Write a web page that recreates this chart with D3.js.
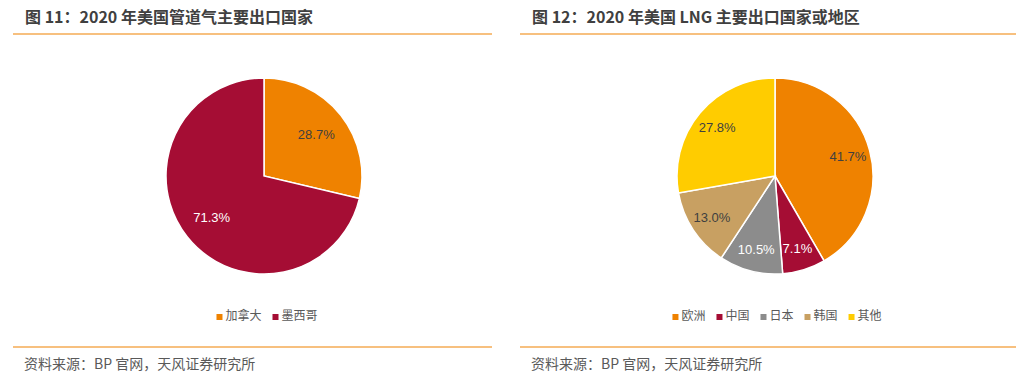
<!DOCTYPE html>
<html><head><meta charset="utf-8">
<script src="https://cdn.jsdelivr.net/npm/d3@7"></script>
<style>body{margin:0;background:#fff;}svg{display:block;}</style>
</head><body>
<svg id="c" width="1026" height="379"></svg>
<script>
// ---- data ----
const titleLeft = "图 11：2020 年美国管道气主要出口国家";
const titleRight = "图 12：2020 年美国 LNG 主要出口国家或地区";
const sourceText = "资料来源：BP 官网，天风证券研究所";

const pipeCategories = ["加拿大", "墨西哥"];
const pipeValues = [28.7, 71.3];

const lngCategories = ["欧洲", "中国", "日本", "韩国", "其他"];
const lngValues = [41.7, 7.1, 10.5, 13.0, 27.8];

// ---- styles ----
const colorMap = {"加拿大":"#EF8200","墨西哥":"#A50D34","欧洲":"#EF8200","中国":"#A50D34","日本":"#8C8C8C","韩国":"#C8A062","其他":"#FFCC00"};
const labelColor = {"加拿大":"#404040","墨西哥":"#ffffff","欧洲":"#404040","中国":"#ffffff","日本":"#ffffff","韩国":"#404040","其他":"#404040"};
const ORANGE = "#EF8200";

const svg = d3.select("#c");

function panel(opts){
  const g = svg.append("g");
  // title
  g.append("text").attr("x", opts.titleX).attr("y", 23)
    .attr("font-family","'Noto Sans CJK SC','Noto Sans',sans-serif")
    .attr("font-weight","bold").attr("font-size",16).attr("fill","#404040")
    .text(opts.title);
  g.append("line").attr("x1",opts.x0).attr("x2",opts.x1).attr("y1",34).attr("y2",34)
    .attr("stroke",ORANGE).attr("stroke-width",1.2);
  g.append("line").attr("x1",opts.x0).attr("x2",opts.x1).attr("y1",347).attr("y2",347)
    .attr("stroke",ORANGE).attr("stroke-width",1.2);
  g.append("text").attr("x", opts.titleX - 1).attr("y", 369)
    .attr("font-family","'Noto Sans CJK SC','Noto Sans',sans-serif")
    .attr("font-size",14).attr("fill","#595959")
    .text(sourceText);

  // pie
  const data = opts.cats.map((c,i)=>({cat:c, val:opts.vals[i]}));
  const pie = d3.pie().value(d=>d.val).sort(null);
  const arcs = pie(data);
  const arc = d3.arc().innerRadius(0).outerRadius(opts.r);
  const labelArc = d3.arc().innerRadius(opts.r*opts.lf).outerRadius(opts.r*opts.lf);
  const pg = g.append("g").attr("transform",`translate(${opts.cx},${opts.cy})`);
  pg.selectAll("path").data(arcs).join("path")
    .attr("d",arc).attr("fill",d=>colorMap[d.data.cat])
    .attr("stroke","#fff").attr("stroke-width",1.5);
  pg.selectAll("text").data(arcs).join("text")
    .attr("transform",d=>`translate(${labelArc.centroid(d)})`)
    .attr("text-anchor","middle").attr("dy","0.35em")
    .attr("font-family","'Liberation Sans',Arial,sans-serif").attr("font-size",13)
    .attr("fill",d=>labelColor[d.data.cat])
    .text(d=>d3.format(".1f")(d.data.val)+"%");

  // legend
  const lg = g.append("g");
  const items = lg.selectAll("g").data(opts.cats).join("g");
  items.append("rect").attr("width",6).attr("height",6).attr("y",-6)
    .attr("fill",d=>colorMap[d]);
  items.append("text").attr("x",9).attr("y",0)
    .attr("font-family","'Noto Sans CJK SC',sans-serif").attr("font-size",12)
    .attr("fill","#595959").text(d=>d);
  let x = 0;
  items.each(function(){
    const w = this.getBBox().width;
    d3.select(this).attr("transform",`translate(${x},0)`);
    x += w + 11;
  });
  const total = x - 11;
  lg.attr("transform",`translate(${opts.cx - total/2 + opts.legendShift},${320})`);
}

panel({title:titleLeft, titleX:25, x0:13, x1:492, cx:264, cy:176, r:98, lf:0.68,
  cats:pipeCategories, vals:pipeValues, legendShift:3});
panel({title:titleRight, titleX:532, x0:520, x1:1016, cx:775, cy:176, r:98, lf:0.77,
  cats:lngCategories, vals:lngValues, legendShift:2});
</script>
</body></html>
